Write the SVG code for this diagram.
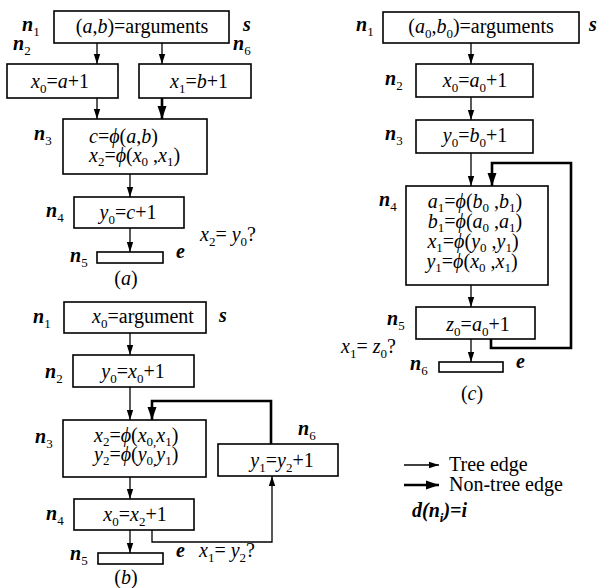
<svg xmlns="http://www.w3.org/2000/svg" width="599" height="588" viewBox="0 0 599 588" font-family="Liberation Serif">
  <defs>
    <style>
      .f { font-family: 'Liberation Serif', serif; font-size: 20px; }
      .i { font-style: italic; }
      .lb { font-style: italic; font-weight: bold; }
      .s { font-size: 13px; font-style: normal; font-weight: normal; }
      .si { font-size: 13px; }
      .box { fill: #fff; stroke: #000; stroke-width: 1.6; }
      .tree { fill: none; stroke: #000; stroke-width: 1.3; marker-end: url(#ah); }
      .ntree { fill: none; stroke: #000; stroke-width: 2.6; marker-end: url(#ahb); }
    </style>
    <marker id="ah" markerUnits="userSpaceOnUse" markerWidth="10" markerHeight="10" viewBox="0 0 10 10" refX="10" refY="5" orient="auto">
      <path d="M0,1.8 L10,5 L0,8.2 Z" fill="#000"/>
    </marker>
    <marker id="ahb" markerUnits="userSpaceOnUse" markerWidth="13" markerHeight="12" viewBox="0 0 13 12" refX="13" refY="6" orient="auto">
      <path d="M0,1.5 L13,6 L0,10.5 Z" fill="#000"/>
    </marker>
  </defs>
  <rect width="599" height="588" fill="#fff"/>

  <!-- connectors -->
  <g id="edges">
    <!-- (a) -->
    <line class="tree" x1="97" y1="43" x2="97" y2="64"/>
    <line class="tree" x1="162" y1="43" x2="162" y2="64"/>
    <line class="tree" x1="97" y1="98" x2="97" y2="119"/>
    <line class="ntree" x1="162" y1="98" x2="162" y2="119"/>
    <line class="tree" x1="130" y1="174" x2="130" y2="197"/>
    <line class="tree" x1="130" y1="228" x2="130" y2="252"/>
    <!-- (b) -->
    <line class="tree" x1="130" y1="333" x2="130" y2="355"/>
    <line class="tree" x1="130" y1="387" x2="130" y2="420"/>
    <polyline class="ntree" points="271,444 271,401 152,401 152,420"/>
    <line class="tree" x1="130" y1="477" x2="130" y2="499"/>
    <polyline class="tree" points="152,530 152,542 272,542 272,476"/>
    <line class="tree" x1="130" y1="530" x2="130" y2="553"/>
    <!-- (c) -->
    <line class="tree" x1="471" y1="43" x2="471" y2="64"/>
    <line class="tree" x1="471" y1="97" x2="471" y2="120"/>
    <line class="tree" x1="471" y1="153" x2="471" y2="186"/>
    <polyline class="ntree" points="491,339 491,348 571,348 571,163 492,163 492,186"/>
    <line class="tree" x1="471" y1="285" x2="471" y2="307"/>
    <line class="tree" x1="471" y1="339" x2="471" y2="362"/>
    <!-- legend -->
    <line class="tree" x1="404" y1="465" x2="439" y2="465"/>
    <line class="ntree" x1="404" y1="485" x2="439" y2="485"/>
  </g>

  <g class="f">
  <!-- panel (a) -->
  <g id="a_n1">
    <rect class="box" x="54" y="11" width="175" height="32"/>
    <text x="142" y="33" text-anchor="middle">(<tspan class="i">a</tspan>,<tspan class="i">b</tspan>)=arguments</text>
    <text class="lb" x="22" y="31">n<tspan class="s" dy="5">1</tspan></text>
    <text class="lb" x="243" y="31">s</text>
  </g>
  <g id="a_n2">
    <rect class="box" x="7" y="64" width="111" height="34"/>
    <text x="60" y="88" text-anchor="middle"><tspan class="i">x</tspan><tspan class="s" dy="5">0</tspan><tspan dy="-5">=</tspan><tspan class="i">a</tspan>+1</text>
    <text class="lb" x="13" y="50">n<tspan class="s" dy="5">2</tspan></text>
  </g>
  <g id="a_n6">
    <rect class="box" x="139" y="64" width="112" height="34"/>
    <text x="199" y="88" text-anchor="middle"><tspan class="i">x</tspan><tspan class="s" dy="5">1</tspan><tspan dy="-5">=</tspan><tspan class="i">b</tspan>+1</text>
    <text class="lb" x="233" y="50">n<tspan class="s" dy="5">6</tspan></text>
  </g>
  <g id="a_n3">
    <rect class="box" x="63" y="119" width="144" height="55"/>
    <text x="89" y="143"><tspan class="i">c</tspan>=<tspan class="i">ϕ</tspan>(<tspan class="i">a</tspan>,<tspan class="i">b</tspan>)</text>
    <text x="89" y="162"><tspan class="i">x</tspan><tspan class="s" dy="4">2</tspan><tspan dy="-4">=</tspan><tspan class="i">ϕ</tspan>(<tspan class="i">x</tspan><tspan class="s" dy="4">0</tspan><tspan dy="-4"> ,</tspan><tspan class="i">x</tspan><tspan class="s" dy="4">1</tspan><tspan dy="-4">)</tspan></text>
    <text class="lb" x="34" y="140">n<tspan class="s" dy="5">3</tspan></text>
  </g>
  <g id="a_n4">
    <rect class="box" x="74" y="197" width="110" height="31"/>
    <text x="128" y="219" text-anchor="middle"><tspan class="i">y</tspan><tspan class="s" dy="5">0</tspan><tspan dy="-5">=</tspan><tspan class="i">c</tspan>+1</text>
    <text class="lb" x="46" y="217">n<tspan class="s" dy="5">4</tspan></text>
  </g>
  <g id="a_n5">
    <rect class="box" x="97" y="252" width="66" height="11"/>
    <text class="lb" x="70" y="262">n<tspan class="s" dy="5">5</tspan></text>
    <text class="lb" x="176" y="258">e</text>
  </g>
  <text x="200" y="241"><tspan class="i">x</tspan><tspan class="s" dy="5">2</tspan><tspan dy="-5">= </tspan><tspan class="i">y</tspan><tspan class="s" dy="5">0</tspan><tspan dy="-5">?</tspan></text>
  <text x="126" y="285" text-anchor="middle">(<tspan class="i">a</tspan>)</text>

  <!-- panel (b) -->
  <g id="b_n1">
    <rect class="box" x="64" y="302" width="142" height="31"/>
    <text x="143" y="323" text-anchor="middle"><tspan class="i">x</tspan><tspan class="s" dy="5">0</tspan><tspan dy="-5">=argument</tspan></text>
    <text class="lb" x="33" y="323">n<tspan class="s" dy="5">1</tspan></text>
    <text class="lb" x="219" y="322">s</text>
  </g>
  <g id="b_n2">
    <rect class="box" x="73" y="355" width="121" height="32"/>
    <text x="133" y="378" text-anchor="middle"><tspan class="i">y</tspan><tspan class="s" dy="5">0</tspan><tspan dy="-5">=</tspan><tspan class="i">x</tspan><tspan class="s" dy="5">0</tspan><tspan dy="-5">+1</tspan></text>
    <text class="lb" x="45" y="378">n<tspan class="s" dy="5">2</tspan></text>
  </g>
  <g id="b_n3">
    <rect class="box" x="63" y="420" width="143" height="57"/>
    <text x="94" y="442"><tspan class="i">x</tspan><tspan class="s" dy="4">2</tspan><tspan dy="-4">=</tspan><tspan class="i">ϕ</tspan>(<tspan class="i">x</tspan><tspan class="s" dy="4">0,</tspan><tspan class="i" dy="-4">x</tspan><tspan class="s" dy="4">1</tspan><tspan dy="-4">)</tspan></text>
    <text x="94" y="461"><tspan class="i">y</tspan><tspan class="s" dy="4">2</tspan><tspan dy="-4">=</tspan><tspan class="i">ϕ</tspan>(<tspan class="i">y</tspan><tspan class="s" dy="4">0,</tspan><tspan class="i" dy="-4">y</tspan><tspan class="s" dy="4">1</tspan><tspan dy="-4">)</tspan></text>
    <text class="lb" x="35" y="443">n<tspan class="s" dy="5">3</tspan></text>
  </g>
  <g id="b_n6">
    <rect class="box" x="218" y="444" width="120" height="32"/>
    <text x="282" y="467" text-anchor="middle"><tspan class="i">y</tspan><tspan class="s" dy="5">1</tspan><tspan dy="-5">=</tspan><tspan class="i">y</tspan><tspan class="s" dy="5">2</tspan><tspan dy="-5">+1</tspan></text>
    <text class="lb" x="298" y="435">n<tspan class="s" dy="5">6</tspan></text>
  </g>
  <g id="b_n4">
    <rect class="box" x="74" y="499" width="120" height="31"/>
    <text x="135" y="521" text-anchor="middle"><tspan class="i">x</tspan><tspan class="s" dy="5">0</tspan><tspan dy="-5">=</tspan><tspan class="i">x</tspan><tspan class="s" dy="5">2</tspan><tspan dy="-5">+1</tspan></text>
    <text class="lb" x="46" y="520">n<tspan class="s" dy="5">4</tspan></text>
  </g>
  <g id="b_n5">
    <rect class="box" x="98" y="553" width="65" height="11"/>
    <text class="lb" x="70" y="560">n<tspan class="s" dy="5">5</tspan></text>
    <text class="lb" x="176" y="557">e</text>
  </g>
  <text x="199" y="557"><tspan class="i">x</tspan><tspan class="s" dy="5">1</tspan><tspan dy="-5">= </tspan><tspan class="i">y</tspan><tspan class="s" dy="5">2</tspan><tspan dy="-5">?</tspan></text>
  <text x="126" y="584" text-anchor="middle">(<tspan class="i">b</tspan>)</text>

  <!-- panel (c) -->
  <g id="c_n1">
    <rect class="box" x="383" y="12" width="196" height="31"/>
    <text x="481" y="33" text-anchor="middle">(<tspan class="i">a</tspan><tspan class="s" dy="5">0</tspan><tspan dy="-5">,</tspan><tspan class="i">b</tspan><tspan class="s" dy="5">0</tspan><tspan dy="-5">)=arguments</tspan></text>
    <text class="lb" x="356" y="31">n<tspan class="s" dy="5">1</tspan></text>
    <text class="lb" x="589" y="31">s</text>
  </g>
  <g id="c_n2">
    <rect class="box" x="416" y="64" width="117" height="33"/>
    <text x="475" y="87" text-anchor="middle"><tspan class="i">x</tspan><tspan class="s" dy="5">0</tspan><tspan dy="-5">=</tspan><tspan class="i">a</tspan><tspan class="s" dy="5">0</tspan><tspan dy="-5">+1</tspan></text>
    <text class="lb" x="385" y="85">n<tspan class="s" dy="5">2</tspan></text>
  </g>
  <g id="c_n3">
    <rect class="box" x="416" y="120" width="117" height="33"/>
    <text x="475" y="142" text-anchor="middle"><tspan class="i">y</tspan><tspan class="s" dy="5">0</tspan><tspan dy="-5">=</tspan><tspan class="i">b</tspan><tspan class="s" dy="5">0</tspan><tspan dy="-5">+1</tspan></text>
    <text class="lb" x="385" y="140">n<tspan class="s" dy="5">3</tspan></text>
  </g>
  <g id="c_n4">
    <rect class="box" x="406" y="186" width="142" height="99"/>
    <text x="475" y="208" text-anchor="middle"><tspan class="i">a</tspan><tspan class="s" dy="4">1</tspan><tspan dy="-4">=</tspan><tspan class="i">ϕ</tspan>(<tspan class="i">b</tspan><tspan class="s" dy="4">0</tspan><tspan dy="-4"> ,</tspan><tspan class="i">b</tspan><tspan class="s" dy="4">1</tspan><tspan dy="-4">)</tspan></text>
    <text x="475" y="228" text-anchor="middle"><tspan class="i">b</tspan><tspan class="s" dy="4">1</tspan><tspan dy="-4">=</tspan><tspan class="i">ϕ</tspan>(<tspan class="i">a</tspan><tspan class="s" dy="4">0</tspan><tspan dy="-4"> ,</tspan><tspan class="i">a</tspan><tspan class="s" dy="4">1</tspan><tspan dy="-4">)</tspan></text>
    <text x="473" y="248" text-anchor="middle"><tspan class="i">x</tspan><tspan class="s" dy="4">1</tspan><tspan dy="-4">=</tspan><tspan class="i">ϕ</tspan>(<tspan class="i">y</tspan><tspan class="s" dy="4">0</tspan><tspan dy="-4"> ,</tspan><tspan class="i">y</tspan><tspan class="s" dy="4">1</tspan><tspan dy="-4">)</tspan></text>
    <text x="472" y="268" text-anchor="middle"><tspan class="i">y</tspan><tspan class="s" dy="4">1</tspan><tspan dy="-4">=</tspan><tspan class="i">ϕ</tspan>(<tspan class="i">x</tspan><tspan class="s" dy="4">0</tspan><tspan dy="-4"> ,</tspan><tspan class="i">x</tspan><tspan class="s" dy="4">1</tspan><tspan dy="-4">)</tspan></text>
    <text class="lb" x="379" y="206">n<tspan class="s" dy="5">4</tspan></text>
  </g>
  <g id="c_n5">
    <rect class="box" x="416" y="307" width="119" height="32"/>
    <text x="478" y="331" text-anchor="middle"><tspan class="i">z</tspan><tspan class="s" dy="5">0</tspan><tspan dy="-5">=</tspan><tspan class="i">a</tspan><tspan class="s" dy="5">0</tspan><tspan dy="-5">+1</tspan></text>
    <text class="lb" x="387" y="325">n<tspan class="s" dy="5">5</tspan></text>
  </g>
  <g id="c_n6">
    <rect class="box" x="439" y="362" width="64" height="10"/>
    <text class="lb" x="410" y="370">n<tspan class="s" dy="5">6</tspan></text>
    <text class="lb" x="516" y="368">e</text>
  </g>
  <text x="341" y="353"><tspan class="i">x</tspan><tspan class="s" dy="5">1</tspan><tspan dy="-5">= </tspan><tspan class="i">z</tspan><tspan class="s" dy="5">0</tspan><tspan dy="-5">?</tspan></text>
  <text x="472" y="400" text-anchor="middle">(<tspan class="i">c</tspan>)</text>

  <!-- legend -->
  <g id="legend">
    <text x="449" y="471">Tree edge</text>
    <text x="449" y="491">Non-tree edge</text>
    <text class="lb" x="412" y="517">d(n<tspan class="si" dy="5">i</tspan><tspan dy="-5">)=i</tspan></text>
  </g>
  </g>
</svg>
